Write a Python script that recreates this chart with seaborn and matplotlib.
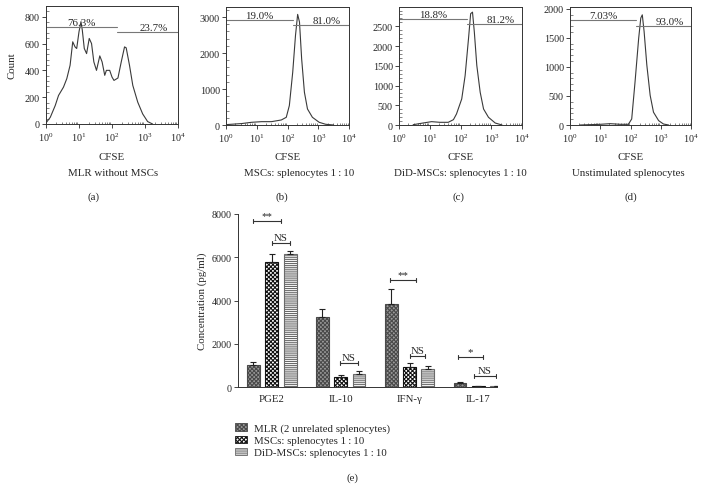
import numpy as np
import pandas as pd
import matplotlib
matplotlib.use("Agg")
import matplotlib.pyplot as plt
from matplotlib.patches import Patch
from matplotlib.ticker import LogLocator, AutoMinorLocator
from matplotlib.container import BarContainer
import seaborn as sns

# ---------------- data: flow cytometry histograms (x in log10 CFSE units) ----------------
a_logx = [0.0, 0.13, 0.28, 0.38, 0.53, 0.63, 0.73, 0.81, 0.88, 0.93, 1.00, 1.06, 1.10, 1.16, 1.23,
          1.31, 1.38, 1.45, 1.53, 1.63, 1.70, 1.78, 1.83, 1.93, 2.00, 2.06, 2.18, 2.28, 2.38, 2.43,
          2.53, 2.63, 2.78, 2.93, 3.08, 3.23]
a_count = [8, 50, 138, 213, 275, 338, 438, 613, 575, 563, 688, 763, 700, 563, 525,
           638, 600, 463, 400, 508, 463, 363, 400, 400, 350, 325, 343, 463, 575, 568,
           438, 288, 163, 75, 18, 0]
b_logx = [0.0, 0.51, 0.83, 1.16, 1.48, 1.80, 1.96, 2.06, 2.17, 2.26, 2.33, 2.39, 2.46, 2.55, 2.65,
          2.81, 3.03, 3.24, 3.5]
b_count = [10, 40, 75, 93, 93, 140, 214, 540, 1470, 2490, 3075, 2860, 1840, 910, 445,
           214, 75, 20, 0]
c_logx = [0.46, 0.78, 1.06, 1.33, 1.60, 1.77, 1.87, 2.04, 2.15, 2.26, 2.33, 2.39, 2.45, 2.53, 2.64,
          2.75, 2.91, 3.13, 3.35]
c_count = [8, 50, 85, 68, 68, 135, 280, 660, 1250, 2185, 2820, 2860, 2355, 1510, 830,
           405, 195, 50, 0]
d_logx = [0.33, 1.0, 1.33, 1.66, 1.93, 2.04, 2.15, 2.27, 2.34, 2.39, 2.45, 2.54, 2.65, 2.76, 2.93,
          3.09, 3.26]
d_count = [0, 12, 23, 12, 12, 104, 740, 1490, 1840, 1895, 1607, 1030, 510, 220, 75,
           17, 0]

hist_subtitles = ["MLR without MSCs", "MSCs: splenocytes 1\u2009:\u200910",
                  "DiD-MSCs: splenocytes 1\u2009:\u200910", "Unstimulated splenocytes"]
hist_letters = ["(a)", "(b)", "(c)", "(d)"]
gate_left_pct = ["76.3%", "19.0%", "18.8%", "7.03%"]
gate_right_pct = ["23.7%", "81.0%", "81.2%", "93.0%"]
gate_split = [2.15, 2.17, 2.20, 2.18]          # log10 position of gate boundary
gate_left_y = [720, 2908, 2677, 1798]
gate_right_y = [683, 2768, 2550, 1711]
y_limits = [880, 3280, 2990, 2030]
y_major = [200, 1000, 500, 500]

# ---------------- data: cytokine bar chart ----------------
categories = ["PGE2", "IL-10", "IFN-\u03b3", "IL-17"]
series = ["MLR (2 unrelated splenocytes)", "MSCs: splenocytes 1\u2009:\u200910",
          "DiD-MSCs: splenocytes 1\u2009:\u200910"]
mlr_vals = [1030, 3230, 3850, 180]
mlr_err = [130, 390, 700, 50]
msc_vals = [5800, 470, 920, 25]
msc_err = [370, 100, 180, 20]
did_vals = [6150, 590, 830, 45]
did_err = [140, 160, 150, 20]

# significance brackets: (x_start, x_end, y, label) in data units
sig_x0 = [-0.27, 0.0, 0.99, 1.72, 2.01, 2.70, 2.94]
sig_x1 = [0.14, 0.26, 1.25, 2.09, 2.23, 3.07, 3.25]
sig_y = [7670, 6660, 1110, 4950, 1430, 1390, 510]
sig_lab = ["**", "NS", "NS", "**", "NS", "*", "NS"]

# ---------------- style ----------------
sns.set_theme(style="ticks")
plt.rcParams["font.family"] = ["Liberation Serif", "DejaVu Serif"]
plt.rcParams["mathtext.fontset"] = "custom"
plt.rcParams["mathtext.rm"] = "Liberation Serif"
plt.rcParams["mathtext.it"] = "Liberation Serif:italic"
plt.rcParams["hatch.linewidth"] = 0.8
FS = 7.8
TS = 7.3

W, H = 703, 489
fig = plt.figure(figsize=(W / 100, H / 100), dpi=100)


def ax_at(l, t, r, b):
    return fig.add_axes([l / W, 1 - b / H, (r - l) / W, (b - t) / H])


hist_boxes = [(46, 7, 178, 125), (226, 8, 349, 126), (399, 8, 522, 126), (570, 8, 691, 126)]
subtitle_x = [113, 299, 460, 628]
letter_x = [93, 282, 458, 631]
hist_data = [(a_logx, a_count), (b_logx, b_count), (c_logx, c_count), (d_logx, d_count)]

for i, box in enumerate(hist_boxes):
    ax = ax_at(*box)
    lx, cnt = hist_data[i]
    df = pd.DataFrame({"CFSE": 10 ** np.array(lx), "Count": cnt})
    sns.lineplot(data=df, x="CFSE", y="Count", ax=ax, color="#3a3a3a", linewidth=0.8)
    ax.set_xscale("log")
    ax.set_xlim(1, 1e4)
    ax.set_ylim(0, y_limits[i])
    ax.xaxis.set_major_locator(LogLocator(base=10, numticks=10))
    ax.xaxis.set_minor_locator(LogLocator(base=10, subs=np.arange(2, 10), numticks=50))
    ax.yaxis.set_major_locator(plt.MultipleLocator(y_major[i]))
    ax.yaxis.set_minor_locator(AutoMinorLocator(5))
    ax.tick_params(axis="both", which="major", labelsize=TS, length=3, width=0.6, direction="out", pad=1.5)
    ax.tick_params(axis="both", which="minor", length=1.8, width=0.4, direction="in")
    for sp in ax.spines.values():
        sp.set_linewidth(0.7)
        sp.set_color("#333333")
    ax.set_xlabel("")
    ax.set_ylabel("")
    fig.text((box[0] + box[2]) / 2 / W, 1 - 157 / H, "CFSE", ha="center", va="center", fontsize=FS)
    if i == 0:
        fig.text(12 / W, 1 - 66 / H, "Count", ha="center", va="center", rotation=90, fontsize=FS)
    # gates
    ax.plot([1, 10 ** gate_split[i]], [gate_left_y[i]] * 2, color="#777777", lw=0.8)
    ax.plot([10 ** gate_split[i], 1e4], [gate_right_y[i]] * 2, color="#777777", lw=0.8)
    ax.text(10 ** (gate_split[i] / 2), gate_left_y[i], gate_left_pct[i], ha="center", va="bottom",
            fontsize=FS)
    ax.text(10 ** ((gate_split[i] + 4.4) / 2), gate_right_y[i], gate_right_pct[i], ha="center",
            va="bottom", fontsize=FS)
    fig.text(subtitle_x[i] / W, 1 - 173 / H, hist_subtitles[i], ha="center", va="center", fontsize=FS)
    fig.text(letter_x[i] / W, 1 - 197 / H, hist_letters[i], ha="center", va="center", fontsize=FS)

# ---------------- bar chart ----------------
axe = ax_at(238, 215, 497, 388)
rows = []
for s, vals in zip(series, [mlr_vals, msc_vals, did_vals]):
    for c, v in zip(categories, vals):
        rows.append({"Cytokine": c, "Series": s, "Concentration": v})
bdf = pd.DataFrame(rows)
face = {series[0]: "#9a9a9a", series[1]: "#ffffff", series[2]: "#ffffff"}
hatches = ["xxxxxxxx", "xxxxxxxx", "--------"]
edgec = ["#4a4a4a", "#111111", "#6a6a6a"]
sns.barplot(data=bdf, x="Cytokine", y="Concentration", hue="Series", order=categories,
            hue_order=series, palette=face, width=0.8, gap=0.3, errorbar=None, ax=axe,
            legend=False, linewidth=0.8, edgecolor="#222222")
errs = [mlr_err, msc_err, did_err]
bar_conts = [c for c in axe.containers if isinstance(c, BarContainer)]
for k, cont in enumerate(bar_conts):
    xs, ys = [], []
    for p in cont.patches:
        p.set_hatch(hatches[k])
        p.set_edgecolor(edgec[k])
        xs.append(p.get_x() + p.get_width() / 2)
        ys.append(p.get_height())
    axe.errorbar(xs, ys, yerr=[np.zeros(len(xs)), errs[k]], fmt="none", ecolor="#222222",
                 elinewidth=0.8, capsize=2.5, capthick=0.8)

for x0, x1, y, lab in zip(sig_x0, sig_x1, sig_y, sig_lab):
    axe.plot([x0, x1], [y, y], color="#333333", lw=0.8)
    axe.plot([x0, x0], [y - 90, y + 90], color="#333333", lw=0.8)
    axe.plot([x1, x1], [y - 90, y + 90], color="#333333", lw=0.8)
    axe.text((x0 + x1) / 2, y + (60 if lab == "NS" else 40), lab, ha="center", va="bottom",
             fontsize=FS)

axe.set_xlim(-0.49, 3.27)
axe.set_ylim(0, 8000)
axe.yaxis.set_major_locator(plt.MultipleLocator(2000))
sns.despine(ax=axe)
for sp in axe.spines.values():
    sp.set_linewidth(0.7)
    sp.set_color("#333333")
axe.tick_params(axis="y", labelsize=TS, length=3, width=0.6, pad=1.5)
axe.tick_params(axis="x", labelsize=FS, length=0, pad=5)
axe.set_xlabel("")
axe.set_ylabel("Concentration (pg/ml)", fontsize=FS)
axe.yaxis.set_label_coords((207 - 238) / 259, 0.5)

handles = [Patch(facecolor=face[s], hatch=hatches[k], edgecolor=edgec[k], linewidth=0.6)
           for k, s in enumerate(series)]
fig.legend(handles, series, loc="upper left", bbox_to_anchor=(235 / W, 1 - 424 / H), frameon=False,
           fontsize=FS, handlelength=1.1, handleheight=0.7, labelspacing=0.25, handletextpad=0.7,
           borderaxespad=0, borderpad=0)
fig.text(352 / W, 1 - 478 / H, "(e)", ha="center", va="center", fontsize=FS)

fig.savefig("out.png", dpi=100)
